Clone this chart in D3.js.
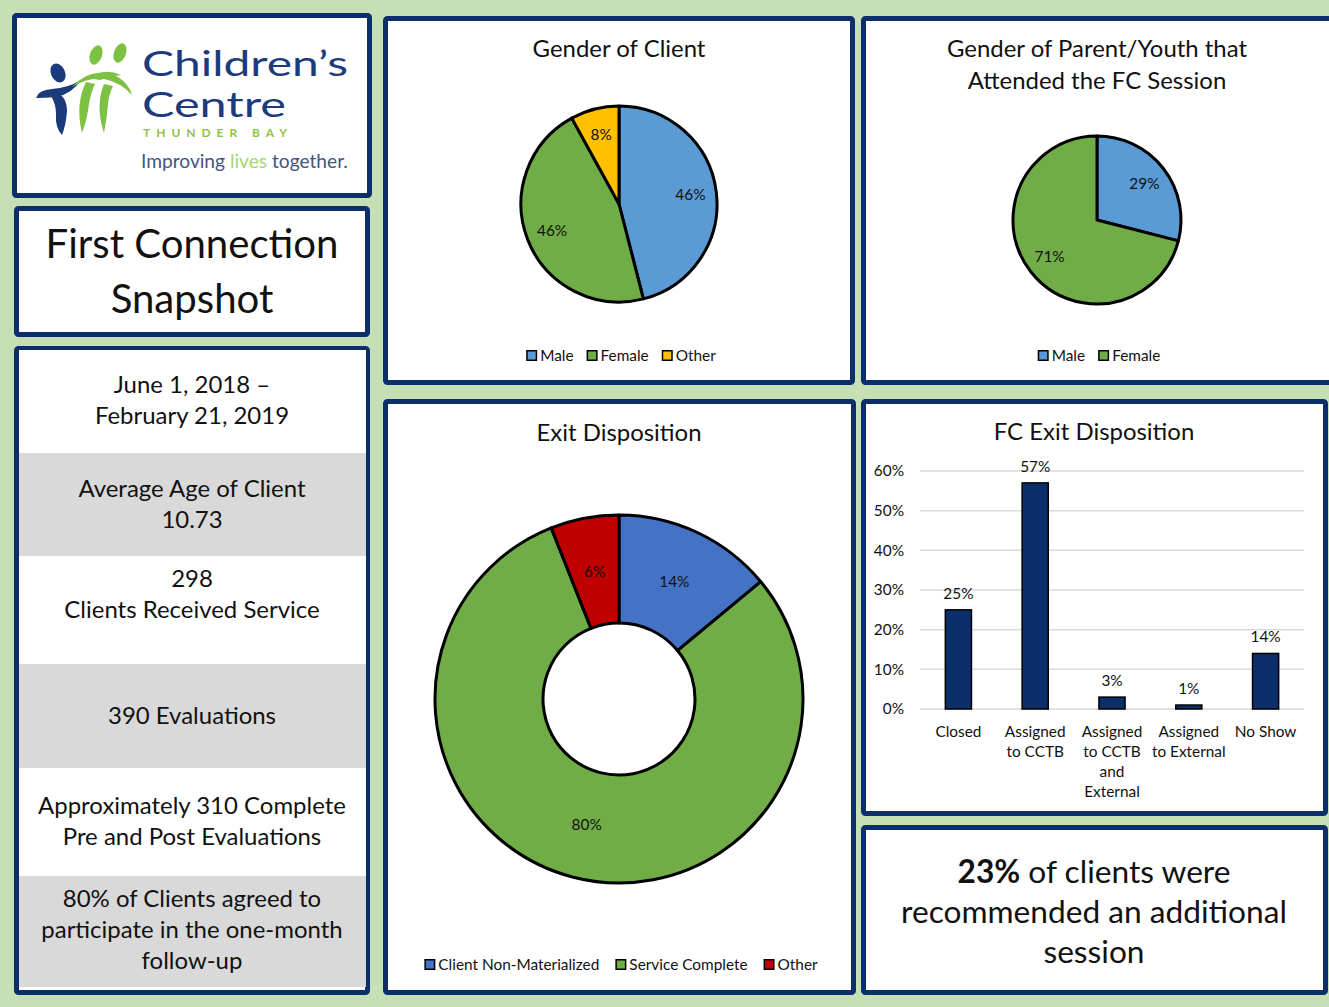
<!DOCTYPE html>
<html><head><meta charset="utf-8">
<script src="https://cdn.jsdelivr.net/npm/d3@7"></script>
<style>
body{margin:0;background:#c5e0b4;}
svg{display:block;}
</style>
</head><body>
<svg id="c" width="1329" height="1007"></svg>
<script>
// ---------------- DATA ----------------
const genderClientCats = ["Male", "Female", "Other"];
const genderClientVals = [0.46, 0.46, 0.08];
const genderParentCats = ["Male", "Female"];
const genderParentVals = [0.29, 0.71];
const exitCats = ["Client Non-Materialized", "Service Complete", "Other"];
const exitVals = [0.14, 0.80, 0.06];
const fcCats = ["Closed", "Assigned to CCTB", "Assigned to CCTB and External", "Assigned to External", "No Show"];
const fcCatLines = [["Closed"], ["Assigned", "to CCTB"], ["Assigned", "to CCTB", "and", "External"], ["Assigned", "to External"], ["No Show"]];
const fcVals = [0.25, 0.57, 0.03, 0.01, 0.14];
const fcTicks = [0, 0.1, 0.2, 0.3, 0.4, 0.5, 0.6];
const titleLines = ["First Connection", "Snapshot"];
const statRows = [
  ["June 1, 2018 \u2013", "February 21, 2019"],
  ["Average Age of Client", "10.73"],
  ["298", "Clients Received Service"],
  ["390 Evaluations"],
  ["Approximately 310 Complete", "Pre and Post Evaluations"],
  ["80% of Clients agreed to", "participate in the one-month", "follow-up"]
];
const highlightPct = "23%";
const highlightLines = [" of clients were", "recommended an additional", "session"];
const logoLines = ["Children\u2019s", "Centre"];
const logoPlace = "THUNDER BAY";
const logoTag = ["Improving ", "lives", " together."];

// ---------------- STYLE ----------------
const NAVY = "#0c2e6b";
const FONT = "Lato, 'Open Sans', sans-serif";
const LOGOFONT = "Lato, sans-serif";
const TXT = "#111111";
const genderColors = {Male: "#5b9bd5", Female: "#70ad47", Other: "#ffc000"};
const exitColors = ["#4472c4", "#70ad47", "#c00000"];

const svg = d3.select("#c");
svg.append("rect").attr("width", 1329).attr("height", 1007).attr("fill", "#c5e0b4");

const measurer = svg.append("text").attr("font-size", 100).attr("visibility", "hidden");
function fit(str, w, weight, family) {
  measurer.attr("font-family", family || FONT).attr("font-weight", weight || "normal").text(str);
  return 100 * w / measurer.node().getComputedTextLength();
}
function textW(str, size, weight) {
  measurer.attr("font-family", FONT).attr("font-weight", weight || "normal").text(str);
  return measurer.node().getComputedTextLength() * size / 100;
}

function panel(x0, y0, x1, y1) {
  return svg.append("rect").attr("x", x0 + 2.5).attr("y", y0 + 2.5)
    .attr("width", x1 - x0 - 5).attr("height", y1 - y0 - 5)
    .attr("fill", "#fff").attr("stroke", NAVY).attr("stroke-width", 5).attr("rx", 2);
}
function centered(x, y, str, size, weight, fill) {
  return svg.append("text").attr("x", x).attr("y", y).attr("text-anchor", "middle")
    .attr("font-family", FONT).attr("font-size", size).attr("font-weight", weight || "normal")
    .attr("fill", fill || TXT).text(str);
}

const chartTitleSize = fit("Gender of Client", 173);
const smallSize = fit("Client Non-Materialized", 161);

// ---------------- LOGO PANEL ----------------
panel(12, 13, 372, 198);
const logo = svg.append("g");
const blue = "#1b3b7c", green = "#7cc142";
// blue figure
logo.append("ellipse").attr("cx", 58).attr("cy", 73).attr("rx", 7).attr("ry", 10)
  .attr("transform", "rotate(-25,58,73)").attr("fill", blue);
logo.append("path").attr("d", "M36,98 Q38,90 52,89 Q68,88 81,80 Q72,94 56,97 Q45,98 36,98 Z").attr("fill", blue);
logo.append("path").attr("d", "M55,92 Q67,96 67,111 Q66,125 62,135 Q55,128 56,114 Q56,104 51,96 Z").attr("fill", blue);
// green figures
logo.append("ellipse").attr("cx", 96).attr("cy", 55).attr("rx", 6).attr("ry", 10)
  .attr("transform", "rotate(20,96,55)").attr("fill", green);
logo.append("ellipse").attr("cx", 120).attr("cy", 53).attr("rx", 6).attr("ry", 10)
  .attr("transform", "rotate(20,120,53)").attr("fill", green);
logo.append("path").attr("d", "M72,87 Q92,65 118,77 Q129,84 132,95 Q120,82 104,79 Q88,77 72,87 Z").attr("fill", green);
logo.append("path").attr("d", "M88,78 Q104,67 121,75 Q112,76 100,80 Z").attr("fill", green);
logo.append("path").attr("d", "M86,82 Q75,104 82,133 Q87,120 89,104 Q91,92 95,84 Z").attr("fill", green);
logo.append("path").attr("d", "M104,84 Q95,106 104,133 Q107,118 108,104 Q109,94 113,86 Z").attr("fill", green);
const logoSize = 34;
logo.append("text").attr("x", 142).attr("y", 76).attr("font-family", LOGOFONT).attr("font-size", logoSize)
  .attr("fill", blue).attr("textLength", 206).attr("lengthAdjust", "spacingAndGlyphs").text(logoLines[0]);
logo.append("text").attr("x", 142).attr("y", 117).attr("font-family", LOGOFONT).attr("font-size", logoSize)
  .attr("fill", blue).attr("textLength", 144).attr("lengthAdjust", "spacingAndGlyphs").text(logoLines[1]);
logo.append("text").attr("x", 143).attr("y", 137).attr("font-family", LOGOFONT).attr("font-size", 12)
  .attr("font-weight", "bold").attr("fill", "#8dc63f").attr("textLength", 144).attr("lengthAdjust", "spacing")
  .text(logoPlace);
const tagSize = fit(logoTag.join(""), 207, "normal", LOGOFONT);
const tag = logo.append("text").attr("x", 141).attr("y", 168).attr("font-family", LOGOFONT)
  .attr("font-size", tagSize).attr("fill", "#44557f");
tag.append("tspan").text(logoTag[0]);
tag.append("tspan").attr("fill", "#a6d66f").text(logoTag[1]);
tag.append("tspan").text(logoTag[2]);

// ---------------- TITLE PANEL ----------------
panel(14, 206, 370, 337);
const titleSize = fit(titleLines[0], 293);
const titleBase = [258, 313];
titleLines.forEach((t, i) => centered(192, titleBase[i], t, titleSize));

// ---------------- STATS PANEL ----------------
panel(14, 346, 370, 995);
const rowEdges = [350, 453, 556, 664, 768, 876, 987];
const firstBase = [393, 497, 587, 724, 814, 907];
const statSize = fit("Approximately 310 Complete", 308);
statRows.forEach((lines, i) => {
  svg.append("rect").attr("x", 19).attr("y", rowEdges[i]).attr("width", 347)
    .attr("height", rowEdges[i + 1] - rowEdges[i]).attr("fill", i % 2 ? "#d9d9d9" : "#ffffff");
  lines.forEach((t, j) => centered(192, firstBase[i] + j * 31, t, statSize));
});

// ---------------- LEGEND helper ----------------
function legend(cx, y, items, colors, gap) {
  const box = 11, pad = 3;
  const widths = items.map(t => box + pad + textW(t, smallSize));
  const total = d3.sum(widths) + gap * (items.length - 1);
  let x = cx - total / 2;
  items.forEach((t, i) => {
    svg.append("rect").attr("x", x + 0.75).attr("y", y - box + 0.75).attr("width", box - 1.5).attr("height", box - 1.5)
      .attr("fill", colors[i]).attr("stroke", "#000").attr("stroke-width", 1.5);
    svg.append("text").attr("x", x + box + pad).attr("y", y).attr("font-family", FONT)
      .attr("font-size", smallSize).attr("fill", TXT).text(t);
    x += widths[i] + gap;
  });
}

// ---------------- PIE helper ----------------
function pieChart(cx, cy, r, inner, cats, vals, colors, labelR) {
  const pie = d3.pie().sort(null).value(d => d.v);
  const data = pie(cats.map((c, i) => ({c, v: vals[i]})));
  const arc = d3.arc().innerRadius(inner).outerRadius(r);
  const lab = d3.arc().innerRadius(labelR).outerRadius(labelR);
  const g = svg.append("g").attr("transform", `translate(${cx},${cy})`);
  g.selectAll("path").data(data).join("path").attr("d", arc)
    .attr("fill", (d, i) => colors[i]).attr("stroke", "#000").attr("stroke-width", 3).attr("stroke-linejoin", "round");
  g.selectAll("text").data(data).join("text")
    .attr("transform", d => `translate(${lab.centroid(d)})`)
    .attr("text-anchor", "middle").attr("dy", "0.35em")
    .attr("font-family", FONT).attr("font-size", smallSize).attr("fill", TXT)
    .text(d => d3.format(".0%")(d.data.v));
}

// ---------------- GENDER OF CLIENT ----------------
panel(383, 16, 855, 385);
centered(619, 57, "Gender of Client", chartTitleSize);
pieChart(619, 204, 98, 0, genderClientCats, genderClientVals, genderClientCats.map(c => genderColors[c]), 72);
legend(621, 361, genderClientCats, genderClientCats.map(c => genderColors[c]), 13);

// ---------------- GENDER OF PARENT ----------------
panel(861, 16, 1335, 385);
centered(1097, 57, "Gender of Parent/Youth that", chartTitleSize);
centered(1097, 89, "Attended the FC Session", chartTitleSize);
pieChart(1097, 220, 84, 0, genderParentCats, genderParentVals, genderParentCats.map(c => genderColors[c]), 60);
legend(1099, 361, genderParentCats, genderParentCats.map(c => genderColors[c]), 13);

// ---------------- EXIT DISPOSITION ----------------
panel(383, 399, 856, 995);
centered(619, 441, "Exit Disposition", chartTitleSize);
pieChart(619, 699, 184, 76, exitCats, exitVals, exitColors, 130);
legend(621, 970, exitCats, exitColors, 16);

// ---------------- FC EXIT DISPOSITION (bar) ----------------
panel(861, 399, 1328, 816);
centered(1094, 440, "FC Exit Disposition", chartTitleSize);
const x = d3.scaleBand().domain(fcCats).range([920, 1304]).paddingInner(0.66).paddingOuter(0.33);
const y = d3.scaleLinear().domain([0, 0.6]).range([709, 471]);
const gridG = svg.append("g");
gridG.selectAll("line").data(fcTicks).join("line")
  .attr("x1", 920).attr("x2", 1304).attr("y1", d => y(d)).attr("y2", d => y(d))
  .attr("stroke", "#d9d9d9").attr("stroke-width", 1.5);
const yAxis = svg.append("g").attr("transform", "translate(920,0)")
  .call(d3.axisLeft(y).tickValues(fcTicks).tickFormat(d3.format(".0%")).tickSize(0).tickPadding(16));
yAxis.select(".domain").remove();
yAxis.selectAll("text").attr("font-family", FONT).attr("font-size", smallSize).attr("fill", TXT);
svg.append("g").selectAll("rect").data(fcCats).join("rect")
  .attr("x", d => x(d)).attr("width", x.bandwidth())
  .attr("y", (d, i) => y(fcVals[i])).attr("height", (d, i) => y(0) - y(fcVals[i]))
  .attr("fill", NAVY).attr("stroke", "#000").attr("stroke-width", 1.5);
svg.append("g").selectAll("text").data(fcCats).join("text")
  .attr("x", d => x(d) + x.bandwidth() / 2).attr("y", (d, i) => y(fcVals[i]) - 11)
  .attr("text-anchor", "middle").attr("font-family", FONT).attr("font-size", smallSize).attr("fill", TXT)
  .text((d, i) => d3.format(".0%")(fcVals[i]));
const xAxis = svg.append("g").attr("transform", "translate(0,709)")
  .call(d3.axisBottom(x).tickSize(0).tickFormat(""));
xAxis.select(".domain").remove();
fcCats.forEach((c, i) => {
  fcCatLines[i].forEach((ln, j) => centered(x(c) + x.bandwidth() / 2, 737 + j * 20, ln, smallSize));
});

// ---------------- HIGHLIGHT BOX ----------------
panel(861, 825, 1328, 995);
const hiSize = fit(highlightLines[1], 386);
const t1 = svg.append("text").attr("x", 1094).attr("y", 883).attr("text-anchor", "middle")
  .attr("font-family", FONT).attr("font-size", hiSize).attr("fill", TXT);
t1.append("tspan").attr("font-weight", "bold").text(highlightPct);
t1.append("tspan").text(highlightLines[0]);
centered(1094, 923, highlightLines[1], hiSize);
centered(1094, 963, highlightLines[2], hiSize);
</script>
</body></html>
